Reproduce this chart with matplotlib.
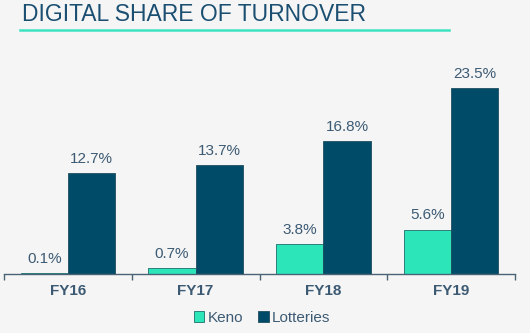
import matplotlib
matplotlib.use("Agg")
import matplotlib.pyplot as plt
import numpy as np

plt.rcParams['font.family'] = ['Liberation Sans', 'DejaVu Sans']

years = ["FY16", "FY17", "FY18", "FY19"]
keno = [0.1, 0.7, 3.8, 5.6]
lotteries = [12.7, 13.7, 16.8, 23.5]

bg = "#F5F5F5"
keno_color = "#2CE6B9"
lot_color = "#004B68"
text_color = "#3C5A73"

fig = plt.figure(figsize=(5.3, 3.33), dpi=100, facecolor=bg)
W, H = 530, 333
ax = fig.add_axes([4 / W, (H - 274) / H, (515 - 4) / W, (274 - 60) / H])
ax.set_facecolor(bg)

x = np.arange(len(years))
w = 0.37
b1 = ax.bar(x - w / 2, keno, w, color=keno_color, edgecolor="#1E6E6E", linewidth=0.6, label="Keno")
b2 = ax.bar(x + w / 2, lotteries, w, color=lot_color, edgecolor="#1E4E60", linewidth=0.6, label="Lotteries")

for bars, vals in ((b1, keno), (b2, lotteries)):
    for rect, v in zip(bars, vals):
        ax.text(rect.get_x() + rect.get_width() / 2, v + 0.9, f"{v:.1f}%", ha="center", va="bottom",
                fontsize=11, color=text_color)

ax.set_xlim(-0.5, len(years) - 0.5)
ax.set_ylim(0, 27)
ax.set_yticks([])
for s in ["top", "right", "left"]:
    ax.spines[s].set_visible(False)
ax.spines["bottom"].set_color("#4A6275")
ax.spines["bottom"].set_linewidth(1.0)

ax.set_xticks(np.arange(-0.5, len(years), 1.0))
ax.set_xticklabels([])
ax.tick_params(axis="x", length=4, color="#4A6275", width=1.0)
ax.set_xticks(x, minor=True)
ax.set_xticklabels(years, minor=True, fontsize=11, fontweight="bold", color=text_color)
ax.tick_params(axis="x", which="minor", length=0, pad=7)

fig.legend(handles=[b1, b2], labels=["Keno", "Lotteries"], loc="center",
           bbox_to_anchor=(262 / W, 1 - 318 / H), ncol=2, frameon=False,
           fontsize=11, handlelength=0.7, handleheight=0.7, handletextpad=0.2,
           columnspacing=1.0, labelcolor=text_color)

fig.text(22 / W, 1 - 21 / H, "DIGITAL SHARE OF TURNOVER", fontsize=16.5, color="#1B4F72",
         ha="left", va="baseline")
fig.add_artist(plt.Line2D([20 / W, 449 / W], [1 - 29.5 / H, 1 - 29.5 / H], color="#3DE3C0", linewidth=1.8))

fig.savefig("out.png", dpi=100, facecolor=bg)
